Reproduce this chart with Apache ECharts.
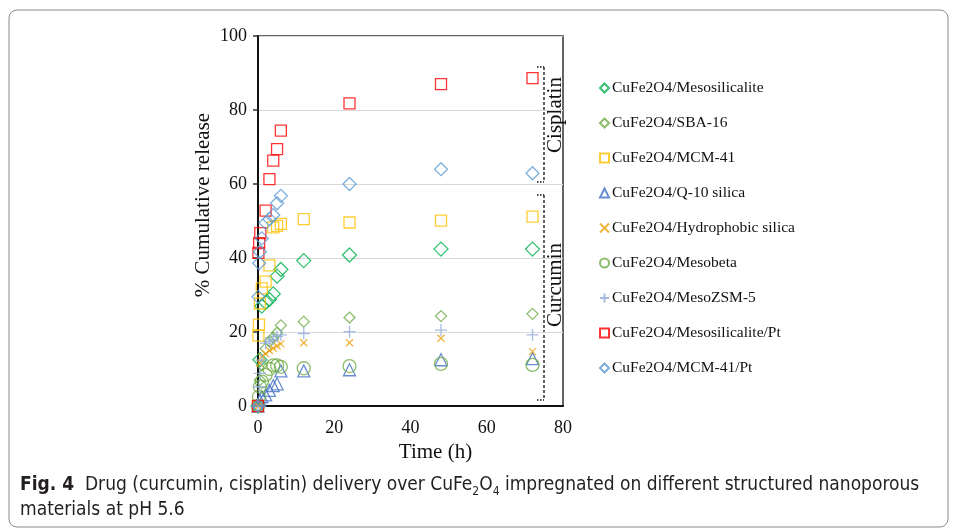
<!DOCTYPE html>
<html>
<head>
<meta charset="utf-8">
<title>Drug release CuFe2O4</title>
<script src="https://cdn.jsdelivr.net/npm/echarts@6/dist/echarts.min.js"></script>
<style>
  html, body { margin: 0; padding: 0; background: #fff; }
  #chart { width: 958px; height: 531px; }
</style>
</head>
<body>
<div id="chart"></div>
<script>
// [time (h), % cumulative release]
const mesosilicalite = [[0, 0], [0.5, 12.5], [1, 27], [2, 28], [3, 28.8], [4, 30.3], [5, 35.1], [6, 36.9], [12, 39.3], [24, 40.8], [48, 42.4], [72, 42.4]]
const sba16 = [[0, 0], [0.5, 7], [1, 11], [2, 15.5], [3, 17.5], [4, 18.5], [5, 19.8], [6, 21.8], [12, 22.8], [24, 23.9], [48, 24.3], [72, 24.9]]
const mcm41 = [[0, 0], [0.1, 19], [0.25, 22], [0.5, 27.7], [1, 31.8], [2, 33.6], [3, 38], [4, 48.3], [5, 48.7], [6, 49.2], [12, 50.5], [24, 49.6], [48, 50.1], [72, 51.2]]
const q10 = [[0, 0], [0.5, 1.5], [1, 2.5], [2, 3], [3, 4.2], [4, 5.5], [5, 6], [6, 9.5], [12, 9.5], [24, 9.8], [48, 12.5], [72, 12.8]]
const hydrophobic = [[0, 0], [0.5, 11.5], [1, 13.3], [2, 14.1], [3, 15], [4, 15.6], [5, 16.2], [6, 16.8], [12, 17.1], [24, 17.1], [48, 18.3], [72, 14.7]]
const mesobeta = [[0, 0], [0.25, 2.5], [0.5, 5.2], [1, 6.6], [2, 8.4], [3, 10], [4, 11], [5, 11], [6, 10.6], [12, 10.2], [24, 10.8], [48, 11.4], [72, 11.1]]
const mesoZsm5 = [[0, 0], [0.25, 5.2], [0.5, 8.8], [1, 12.4], [2, 17], [3, 17.5], [4, 18], [5, 18.8], [6, 19.2], [12, 19.6], [24, 20.1], [48, 20.5], [72, 19.2]]
const mesosilicalitePt = [[0, 0], [0.1, 41.4], [0.3, 44], [0.6, 46.7], [2, 52.8], [3, 61.3], [4, 66.3], [5, 69.4], [6, 74.4], [24, 81.8], [48, 87], [72, 88.6]]
const mcm41Pt = [[0, 0], [0.1, 29.5], [0.3, 38.6], [0.5, 41.7], [1, 45.3], [2, 49.5], [3, 50.5], [4, 51.6], [5, 54.8], [6, 56.8], [24, 60], [48, 64], [72, 62.9]]

const seriesNames = [
  'CuFe2O4/Mesosilicalite',
  'CuFe2O4/SBA-16',
  'CuFe2O4/MCM-41',
  'CuFe2O4/Q-10 silica',
  'CuFe2O4/Hydrophobic silica',
  'CuFe2O4/Mesobeta',
  'CuFe2O4/MesoZSM-5',
  'CuFe2O4/Mesosilicalite/Pt',
  'CuFe2O4/MCM-41/Pt'
]

const crossPath = 'path://M0,0L10,10M10,0L0,10'
const plusPath = 'path://M5,0L5,10M0,5L10,5'

const serif = "'Liberation Serif', 'Times New Roman', serif"
const captionFont = "'Liberation Sans Narrow', 'DejaVu Sans Condensed', 'Noto Sans', sans-serif"

const makeSeries = (name, data, symbol, size, color) => ({
  name,
  type: 'scatter',
  data,
  symbol,
  symbolSize: size,
  clip: false,
  itemStyle: {
    color: 'rgba(255,255,255,0)',
    borderColor: color,
    borderWidth: 1.3
  },
  emphasis: { disabled: true }
})

const option = {
  animation: false,
  grid: {
    left: 258,
    right: 395,
    top: 36,
    bottom: 125,
    show: true,
    borderColor: '#333',
    borderWidth: 1.5
  },
  legend: {
    orient: 'vertical',
    left: 594,
    top: 75,
    itemWidth: 9,
    itemHeight: 9,
    itemGap: 19,
    data: seriesNames,
    textStyle: {
      fontFamily: serif,
      fontSize: 15.5,
      lineHeight: 16,
      color: '#111',
      padding: [0, 0, 0, -2]
    }
  },
  xAxis: {
    type: 'value',
    min: 0,
    max: 80,
    interval: 20,
    name: 'Time (h)',
    nameLocation: 'middle',
    nameGap: 34,
    nameTextStyle: { fontFamily: serif, fontSize: 21, color: '#111', padding: [0, 0, 0, 50] },
    axisLine: { lineStyle: { color: '#111', width: 2 } },
    axisTick: { show: false },
    splitLine: { show: false },
    axisLabel: { fontFamily: serif, fontSize: 18, color: '#111', margin: 13 }
  },
  yAxis: {
    type: 'value',
    min: 0,
    max: 100,
    interval: 20,
    name: '% Cumulative release',
    nameLocation: 'middle',
    nameGap: 44,
    nameTextStyle: { fontFamily: serif, fontSize: 21, color: '#111', padding: [0, 0, 0, 32] },
    axisLine: { show: true, lineStyle: { color: '#111', width: 2 } },
    axisTick: { show: true, length: 5, lineStyle: { color: '#333', width: 1.5 } },
    splitLine: { lineStyle: { color: '#d9d9d9', width: 1 } },
    axisLabel: { fontFamily: serif, fontSize: 18, color: '#111', margin: 11 }
  },
  series: [
    makeSeries(seriesNames[0], mesosilicalite, 'diamond', 14, '#00b050'),
    makeSeries(seriesNames[1], sba16, 'diamond', 11, '#70ad47'),
    makeSeries(seriesNames[2], mcm41, 'rect', 11, '#ffc000'),
    makeSeries(seriesNames[3], q10, 'triangle', 12, '#4472c4'),
    makeSeries(seriesNames[4], hydrophobic, crossPath, 7, '#eba10c'),
    makeSeries(seriesNames[5], mesobeta, 'circle', 13, '#70ad47'),
    makeSeries(seriesNames[6], mesoZsm5, plusPath, 12, '#8faadc'),
    makeSeries(seriesNames[7], mesosilicalitePt, 'rect', 11, '#ff0000'),
    makeSeries(seriesNames[8], mcm41Pt, 'diamond', 13, '#5b9bd5')
  ],
  graphic: [
    // outer figure frame
    {
      type: 'rect',
      shape: { x: 9, y: 10, width: 939, height: 517, r: 8 },
      style: { fill: 'none', stroke: '#8a8a8a', lineWidth: 1 },
      silent: true
    },
    // Cisplatin bracket
    { type: 'line', shape: { x1: 544, y1: 67, x2: 544, y2: 182 }, style: { stroke: '#111', lineWidth: 1.3, lineDash: [3, 2] } },
    { type: 'line', shape: { x1: 537, y1: 67, x2: 544, y2: 67 }, style: { stroke: '#111', lineWidth: 1.3, lineDash: [1.5, 1.5] } },
    { type: 'line', shape: { x1: 537, y1: 182, x2: 544, y2: 182 }, style: { stroke: '#111', lineWidth: 1.3, lineDash: [1.5, 1.5] } },
    {
      type: 'text', x: 555, y: 115, rotation: Math.PI / 2,
      style: { text: 'Cisplatin', fontFamily: serif, fontSize: 21, fill: '#111', align: 'center', verticalAlign: 'middle' }
    },
    // Curcumin bracket
    { type: 'line', shape: { x1: 544, y1: 195, x2: 544, y2: 400 }, style: { stroke: '#111', lineWidth: 1.3, lineDash: [3, 2] } },
    { type: 'line', shape: { x1: 537, y1: 195, x2: 544, y2: 195 }, style: { stroke: '#111', lineWidth: 1.3, lineDash: [1.5, 1.5] } },
    { type: 'line', shape: { x1: 537, y1: 400, x2: 544, y2: 400 }, style: { stroke: '#111', lineWidth: 1.3, lineDash: [1.5, 1.5] } },
    {
      type: 'text', x: 555, y: 285, rotation: Math.PI / 2,
      style: { text: 'Curcumin', fontFamily: serif, fontSize: 21, fill: '#111', align: 'center', verticalAlign: 'middle' }
    },
    // caption
    {
      type: 'text', x: 20, y: 473,
      style: {
        text: '{b|Fig. 4}  Drug (curcumin, cisplatin) delivery over CuFe{sub|2}O{sub|4} impregnated on different structured nanoporous\nmaterials at pH 5.6',
        fontFamily: captionFont,
        fontSize: 19,
        lineHeight: 25,
        fill: '#231f20',
        rich: {
          b: { fontWeight: 'bold', fontSize: 19, fontFamily: captionFont, fill: '#231f20' },
          sub: { fontSize: 12, verticalAlign: 'bottom', lineHeight: 20, fontFamily: captionFont, fill: '#231f20' }
        }
      }
    }
  ]
}

const chart = echarts.init(document.getElementById('chart'))
chart.setOption(option)

window.addEventListener('resize', () => {
  chart.resize()
})
</script>
</body>
</html>
